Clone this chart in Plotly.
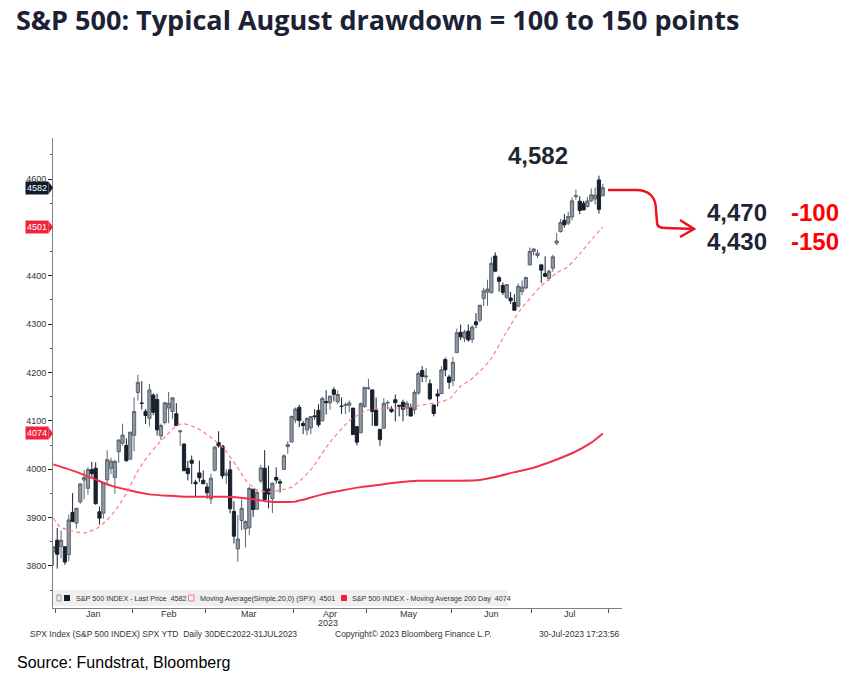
import plotly.graph_objects as go

# ---------------- data ----------------
dates = ["2022-12-30",
 "2023-01-03","2023-01-04","2023-01-05","2023-01-06","2023-01-09","2023-01-10","2023-01-11","2023-01-12","2023-01-13","2023-01-17",
 "2023-01-18","2023-01-19","2023-01-20","2023-01-23","2023-01-24","2023-01-25","2023-01-26","2023-01-27","2023-01-30","2023-01-31",
 "2023-02-01","2023-02-02","2023-02-03","2023-02-06","2023-02-07","2023-02-08","2023-02-09","2023-02-10","2023-02-13","2023-02-14",
 "2023-02-15","2023-02-16","2023-02-17","2023-02-21","2023-02-22","2023-02-23","2023-02-24","2023-02-27","2023-02-28",
 "2023-03-01","2023-03-02","2023-03-03","2023-03-06","2023-03-07","2023-03-08","2023-03-09","2023-03-10","2023-03-13","2023-03-14",
 "2023-03-15","2023-03-16","2023-03-17","2023-03-20","2023-03-21","2023-03-22","2023-03-23","2023-03-24","2023-03-27","2023-03-28",
 "2023-03-29","2023-03-30","2023-03-31",
 "2023-04-03","2023-04-04","2023-04-05","2023-04-06","2023-04-10","2023-04-11","2023-04-12","2023-04-13","2023-04-14","2023-04-17",
 "2023-04-18","2023-04-19","2023-04-20","2023-04-21","2023-04-24","2023-04-25","2023-04-26","2023-04-27","2023-04-28",
 "2023-05-01","2023-05-02","2023-05-03","2023-05-04","2023-05-05","2023-05-08","2023-05-09","2023-05-10","2023-05-11","2023-05-12",
 "2023-05-15","2023-05-16","2023-05-17","2023-05-18","2023-05-19","2023-05-22","2023-05-23","2023-05-24","2023-05-25","2023-05-26",
 "2023-05-30","2023-05-31",
 "2023-06-01","2023-06-02","2023-06-05","2023-06-06","2023-06-07","2023-06-08","2023-06-09","2023-06-12","2023-06-13","2023-06-14",
 "2023-06-15","2023-06-16","2023-06-20","2023-06-21","2023-06-22","2023-06-23","2023-06-26","2023-06-27","2023-06-28","2023-06-29",
 "2023-06-30",
 "2023-07-03","2023-07-05","2023-07-06","2023-07-07","2023-07-10","2023-07-11","2023-07-12","2023-07-13","2023-07-14","2023-07-17",
 "2023-07-18","2023-07-19","2023-07-20","2023-07-21","2023-07-24","2023-07-25","2023-07-26","2023-07-27","2023-07-28"]

opens = [3829.06,
 3853.29,3840.36,3839.74,3823.37,3910.82,3888.57,3932.35,3977.57,3960.60,3999.28,
 4002.25,3911.84,3909.04,3978.14,4001.74,3982.71,4036.08,4053.72,4049.27,4020.85,
 4070.07,4158.68,4136.69,4119.57,4105.35,4153.47,4144.25,4068.92,4096.62,4126.70,
 4119.50,4114.75,4077.39,4052.35,4001.83,4018.60,3973.24,3992.36,3977.19,
 3963.34,3938.68,3998.02,4055.15,4048.26,3987.55,3998.66,3912.77,3835.12,3894.01,
 3876.74,3878.93,3958.69,3917.47,3975.89,4002.04,3959.21,3939.21,3982.93,3974.13,
 3999.53,4046.74,4056.18,
 4102.20,4128.03,4094.50,4081.15,4085.20,4110.29,4121.72,4100.04,4140.11,4137.17,
 4164.26,4139.33,4130.48,4132.14,4132.07,4126.43,4087.78,4075.29,4129.63,
 4166.79,4164.10,4122.25,4082.61,4084.73,4136.98,4124.25,4143.74,4132.24,4138.54,
 4126.65,4127.95,4122.85,4157.68,4204.15,4190.78,4176.80,4132.96,4155.71,4156.16,
 4226.71,4190.74,
 4183.03,4241.01,4282.99,4271.34,4285.47,4268.69,4304.88,4308.32,4352.61,4366.29,
 4365.33,4440.95,4396.11,4380.01,4355.40,4354.17,4344.84,4337.36,4367.48,4374.94,
 4422.44,
 4450.48,4442.04,4422.62,4404.54,4394.23,4415.55,4467.69,4491.50,4514.61,4508.86,
 4521.78,4563.87,4554.38,4550.16,4543.39,4555.19,4558.96,4598.26,4565.75]

highs = [3839.85,
 3878.46,3873.16,3839.74,3906.19,3950.57,3919.83,3970.07,3997.76,4003.95,4015.39,
 4014.16,3922.94,3972.96,4039.31,4023.92,4019.55,4061.57,4094.21,4063.85,4077.16,
 4148.95,4195.44,4182.36,4124.63,4176.54,4156.85,4156.23,4094.36,4138.90,4159.77,
 4148.11,4136.54,4081.51,4052.35,4017.37,4028.30,3978.25,4018.05,3997.50,
 3971.73,3990.84,4048.29,4078.49,4050.00,4000.41,4017.81,3934.05,3905.05,3937.29,
 3894.26,3964.46,3958.91,3956.62,4009.08,4039.49,4007.66,3972.74,4003.83,3979.20,
 4030.59,4057.85,4110.75,
 4127.66,4133.13,4099.69,4107.32,4109.50,4124.26,4134.37,4150.26,4163.19,4151.72,
 4169.48,4162.57,4148.57,4138.02,4142.41,4126.43,4089.67,4138.24,4170.06,
 4186.92,4164.10,4148.30,4082.61,4147.02,4142.30,4130.35,4154.28,4132.80,4143.74,
 4141.25,4135.54,4164.67,4202.20,4212.91,4209.22,4185.68,4132.96,4165.74,4212.87,
 4231.10,4195.44,
 4232.43,4290.67,4299.28,4288.33,4299.19,4298.01,4322.62,4340.13,4375.37,4391.82,
 4439.20,4448.47,4400.15,4386.22,4382.25,4366.55,4362.06,4384.42,4390.35,4398.39,
 4458.48,
 4456.46,4454.06,4422.62,4440.39,4412.60,4443.64,4488.34,4517.38,4527.76,4532.85,
 4562.30,4578.43,4564.74,4555.00,4563.41,4580.62,4582.47,4607.07,4590.16]

lows = [3800.34,
 3794.33,3815.77,3802.42,3809.56,3890.42,3877.29,3928.54,3937.56,3947.67,3984.57,
 3926.59,3885.54,3897.86,3971.64,3989.79,3949.06,4013.29,4048.70,4015.55,4020.44,
 4037.20,4141.88,4123.36,4093.38,4088.39,4111.67,4069.67,4060.79,4092.67,4095.01,
 4103.98,4089.49,4047.95,3995.19,3976.90,3969.19,3943.08,3973.55,3968.98,
 3939.05,3928.16,3995.17,4044.61,3980.31,3969.76,3908.70,3846.32,3808.86,3873.63,
 3838.24,3864.11,3901.27,3916.89,3971.19,3936.17,3919.05,3909.16,3970.49,3951.53,
 3999.53,4032.10,4056.18,
 4095.31,4086.87,4072.56,4069.84,4072.55,4102.61,4086.94,4099.40,4113.20,4123.18,
 4140.36,4134.49,4114.57,4113.86,4117.77,4071.38,4049.35,4075.29,4127.18,
 4164.12,4089.72,4088.86,4048.28,4084.73,4123.81,4116.65,4098.92,4109.29,4099.12,
 4110.27,4109.86,4113.62,4153.50,4180.20,4179.68,4142.54,4109.29,4129.73,4156.16,
 4192.18,4166.15,
 4171.64,4241.01,4266.82,4263.09,4263.96,4261.07,4291.70,4304.37,4337.66,4337.85,
 4362.60,4407.44,4367.19,4360.14,4351.82,4341.34,4328.08,4335.00,4360.22,4371.97,
 4422.44,
 4442.29,4436.61,4385.05,4397.40,4389.92,4408.46,4463.23,4489.36,4499.56,4504.90,
 4514.59,4557.48,4527.56,4535.79,4541.29,4552.42,4547.58,4528.56,4564.01]

closes = [3839.50,
 3824.14,3852.97,3808.10,3895.08,3892.09,3919.25,3969.61,3983.17,3999.09,3990.97,
 3928.86,3898.85,3972.61,4019.81,4016.95,4016.22,4060.43,4070.56,4017.77,4076.60,
 4119.21,4179.76,4136.48,4111.08,4164.00,4117.86,4081.50,4090.46,4137.29,4136.13,
 4147.60,4090.41,4079.09,3997.34,3991.05,4012.32,3970.04,3982.24,3970.15,
 3951.39,3981.35,4045.64,4048.42,3986.37,3992.01,3918.32,3861.59,3855.76,3919.29,
 3891.93,3960.28,3916.64,3951.57,4002.87,3936.97,3948.72,3970.99,3977.53,3971.27,
 4027.81,4050.83,4109.31,
 4124.51,4100.60,4090.38,4105.02,4109.11,4108.94,4091.95,4146.22,4137.64,4151.32,
 4154.87,4154.52,4129.79,4133.52,4137.04,4071.63,4055.99,4135.35,4169.48,
 4167.87,4119.58,4090.75,4061.22,4136.25,4138.12,4119.17,4137.64,4130.62,4124.08,
 4136.28,4109.90,4158.77,4198.05,4191.98,4192.63,4145.58,4115.24,4151.28,4205.45,
 4205.52,4179.83,
 4221.02,4282.37,4273.79,4283.85,4267.52,4293.93,4298.86,4338.93,4369.01,4372.59,
 4425.84,4409.59,4388.71,4365.69,4381.89,4348.33,4328.82,4378.41,4376.86,4396.44,
 4450.38,
 4455.59,4446.82,4411.59,4398.95,4409.53,4439.26,4472.16,4510.04,4505.42,4522.79,
 4554.98,4565.72,4534.87,4536.34,4554.64,4567.46,4566.75,4537.41,4582.23]

# 20-day simple moving average (trading-day index, value)
ma20_idx = [0, 1.7, 5, 8, 11.4, 14, 16.6, 19.2, 21.8, 24.4, 27, 29.6, 32.2, 34, 37.4, 40.8, 44.2, 47.8,
            50.4, 53, 56.4, 59.8, 62, 65, 67.6, 72, 77.3, 81.7, 86, 91, 96.3, 101, 103.3, 106, 108.5,
            113.7, 118, 121.5, 126.7, 131, 133.8, 137.2, 140.6, 143]
ma20_val = [3899, 3881, 3872, 3868, 3878, 3895, 3920, 3953, 3994, 4025, 4050, 4071, 4091, 4094, 4085, 4067, 4044, 4005,
            3974, 3957, 3953, 3958, 3963, 3982, 4005, 4056, 4102, 4122, 4126, 4127, 4133, 4140, 4147, 4172, 4184,
            4226, 4285, 4329, 4377, 4406, 4418, 4447, 4480, 4501]

# 200-day moving average
ma200_idx = [0, 5, 10, 15, 20, 25, 30, 35, 40, 45, 50, 55, 60, 63, 65, 70, 75, 80, 85, 90, 95, 100, 105,
             110, 115, 120, 125, 130, 135, 140, 143]
ma200_val = [4010, 3997, 3982, 3966, 3956, 3948, 3945, 3943, 3943, 3943, 3940, 3934, 3932, 3933, 3937, 3948, 3956,
             3963, 3968, 3973, 3976, 3976, 3976, 3977, 3984, 3994, 4003, 4017, 4033, 4055, 4074]

month_labels = ["Jan", "Feb", "Mar", "Apr", "May", "Jun", "Jul"]
month_first_day = ["2023-01", "2023-02", "2023-03", "2023-04", "2023-05", "2023-06", "2023-07", "2023-08"]
y_ticks = [3800, 3900, 4000, 4100, 4200, 4300, 4400, 4500, 4600]

last_price = 4582
ma20_last = 4501
ma200_last = 4074
target_1, drop_1 = 4470, -100
target_2, drop_2 = 4430, -150

# ---------------- derived positions (trading-day index) ----------------
x = list(range(len(dates)))
def first_index(prefix):
    for i, d in enumerate(dates):
        if d.startswith(prefix):
            return i
    return len(dates) + 1  # Aug 1 2023 (Jul 31 is the last day of the window)
bounds = [first_index(m) - 0.5 for m in month_first_day]
centers = [(bounds[i] + bounds[i + 1]) / 2 for i in range(len(month_labels))]

# ---------------- layout geometry (pixels) ----------------
W_FIG, H_FIG = 861, 674
L, R, T, B = 53, 622, 138, 608
PW, PH = R - L, B - T
def px(xp):
    return (xp - L) / PW
def py(yp):
    return (B - yp) / PH

DARK = "#1f2633"
RED = "#ff0000"
TAGRED = "#f0243e"
AX_FONT = "Liberation Sans, Arial, sans-serif"
BIG = "Liberation Sans, Arial, sans-serif"

fig = go.Figure()

fig.add_trace(go.Scatter(
    x=ma200_idx, y=ma200_val, mode="lines",
    line=dict(color="#f2304b", width=2, shape="spline", smoothing=0.6),
    hoverinfo="skip", showlegend=False))

fig.add_trace(go.Scatter(
    x=ma20_idx, y=ma20_val, mode="lines",
    line=dict(color="#ff7b8e", width=1.2, dash="4px,3px", shape="spline", smoothing=0.6),
    hoverinfo="skip", showlegend=False))

fig.add_trace(go.Candlestick(
    x=x, open=opens, high=highs, low=lows, close=closes,
    increasing=dict(line=dict(color="#5b6470", width=1), fillcolor="#8e98a3"),
    decreasing=dict(line=dict(color="#18212d", width=1), fillcolor="#18212d"),
    whiskerwidth=0, showlegend=False))

annotations = []
shapes = []

# Title
annotations.append(dict(text="<b>S&amp;P 500: Typical August drawdown = 100 to 150 points</b>",
                        x=px(14), y=py(20), xref="paper", yref="paper", xanchor="left", yanchor="middle",
                        showarrow=False, font=dict(family="Open Sans, Lato, sans-serif", size=27, color="#1c2236")))

# Month labels
for lab, c in zip(month_labels, centers):
    annotations.append(dict(text=lab, x=c, y=py(614), xref="x", yref="paper", xanchor="center",
                            yanchor="middle", showarrow=False, font=dict(family=AX_FONT, size=9, color="#333")))
annotations.append(dict(text="2023", x=px(328), y=py(623), xref="paper", yref="paper", xanchor="center",
                        yanchor="middle", showarrow=False, font=dict(family=AX_FONT, size=9, color="#333")))

# Footer
for txt, xl in [("SPX Index (S&amp;P 500 INDEX) SPX YTD  Daily 30DEC2022-31JUL2023", 28),
                ("Copyright© 2023 Bloomberg Finance L.P.", 333),
                ("30-Jul-2023 17:23:56", 537)]:
    annotations.append(dict(text=txt, x=px(xl), y=py(634), xref="paper", yref="paper", xanchor="left",
                            yanchor="middle", showarrow=False, font=dict(family=AX_FONT, size=8.5, color="#333")))
annotations.append(dict(text="Source: Fundstrat, Bloomberg", x=px(15), y=py(662), xref="paper", yref="paper",
                        xanchor="left", yanchor="middle", showarrow=False,
                        font=dict(family="Liberation Sans, Arial, sans-serif", size=16, color="#000")))

# Left value tags
for val, col in [(last_price, "#0e1b2b"), (ma20_last, TAGRED), (ma200_last, TAGRED)]:
    annotations.append(dict(text=str(val), x=px(49), y=val, xref="paper", yref="y", xanchor="right",
                            yanchor="middle", showarrow=False, bgcolor=col, borderpad=1,
                            font=dict(family=AX_FONT, size=9, color="white")))
    shapes.append(dict(type="path", xref="paper", yref="y",
                       path=f"M {px(48.5)} {val + 13} L {px(53)} {val} L {px(48.5)} {val - 13} Z",
                       fillcolor=col, line=dict(width=0)))

# Legend box inside plot
shapes.append(dict(type="rect", xref="paper", yref="paper", x0=px(53.5), x1=px(508), y0=py(606), y1=py(590),
                   fillcolor="#efefef", line=dict(width=0), layer="below"))
shapes.append(dict(type="rect", xref="paper", yref="paper", x0=px(64), x1=px(70), y0=py(601), y1=py(595),
                   fillcolor="#0e1b2b", line=dict(width=0)))
shapes.append(dict(type="rect", xref="paper", yref="paper", x0=px(188.5), x1=px(194), y0=py(601), y1=py(595),
                   fillcolor="rgba(0,0,0,0)", line=dict(width=1, color="#ff7b8e")))
shapes.append(dict(type="rect", xref="paper", yref="paper", x0=px(341), x1=px(347), y0=py(601), y1=py(595),
                   fillcolor="#f51e3c", line=dict(width=0)))
shapes.append(dict(type="rect", xref="paper", yref="paper", x0=px(57), x1=px(61), y0=py(601), y1=py(595),
                   fillcolor="rgba(0,0,0,0)", line=dict(width=1, color="#999")))
for txt, xl in [(f"S&amp;P 500 INDEX - Last Price  {last_price}", 74),
                (f"Moving Average(Simple,20,0) (SPX)  {ma20_last}", 198),
                (f"S&amp;P 500 INDEX - Moving Average 200 Day  {ma200_last}", 350)]:
    annotations.append(dict(text=txt, x=px(xl), y=py(598), xref="paper", yref="paper", xanchor="left",
                            yanchor="middle", showarrow=False, font=dict(family=AX_FONT, size=7.2, color="#333")))

# Big callouts
annotations.append(dict(text=f"<b>{last_price:,}</b>", x=px(538), y=py(155), xref="paper", yref="paper",
                        xanchor="center", yanchor="middle", showarrow=False,
                        font=dict(family=BIG, size=24, color=DARK)))
for tgt, drop, yy in [(target_1, drop_1, 213), (target_2, drop_2, 241)]:
    annotations.append(dict(text=f"<b>{tgt:,}</b>", x=px(737), y=py(yy), xref="paper", yref="paper",
                            xanchor="center", yanchor="middle", showarrow=False,
                            font=dict(family=BIG, size=24, color=DARK)))
    annotations.append(dict(text=f"<b>{drop}</b>", x=px(815), y=py(yy), xref="paper", yref="paper",
                            xanchor="center", yanchor="middle", showarrow=False,
                            font=dict(family=BIG, size=24, color=RED)))

# Red hand-drawn arrow
def P(a, b):
    return f"{px(a):.5f} {py(b):.5f}"
arrow_path = (f"M {P(608, 190)} L {P(636, 190)} C {P(650, 190)} {P(656, 198)} {P(656, 210)} "
              f"L {P(657, 222)} C {P(657, 227)} {P(660, 228)} {P(666, 228)} L {P(694, 229)}")
shapes.append(dict(type="path", xref="paper", yref="paper", path=arrow_path,
                   line=dict(color="#e8141e", width=2.5)))
shapes.append(dict(type="path", xref="paper", yref="paper",
                   path=f"M {P(680, 220)} L {P(694, 229)} L {P(680, 237)}",
                   line=dict(color="#e8141e", width=2.5)))

fig.update_layout(
    width=W_FIG, height=H_FIG,
    margin=dict(l=L, r=W_FIG - R, t=T, b=H_FIG - B),
    paper_bgcolor="white", plot_bgcolor="white",
    showlegend=False,
    boxgap=0.12, boxgroupgap=0.05,
    xaxis=dict(range=[-0.1, 148], showgrid=False, zeroline=False, rangeslider=dict(visible=False),
               showline=True, linecolor="#808080", linewidth=1,
               tickmode="array", tickvals=bounds, ticktext=[""] * len(bounds),
               ticks="outside", ticklen=4, tickcolor="#555", fixedrange=True),
    yaxis=dict(range=[3713, 4685], showgrid=False, zeroline=False,
               showline=True, linecolor="#808080", linewidth=1,
               tickmode="array", tickvals=y_ticks, ticks="outside", ticklen=4, tickcolor="#222",
               tickfont=dict(family=AX_FONT, size=9, color="#333"),
               minor=dict(tickmode="array", tickvals=[v + 50 for v in y_ticks] + [3750],
                          ticks="outside", ticklen=2, tickcolor="#555"),
               fixedrange=True),
    annotations=annotations, shapes=shapes,
)

fig.write_html("out.html", config={"displayModeBar": False},
               post_script="document.body.style.margin='0';document.body.style.overflow='hidden';")
